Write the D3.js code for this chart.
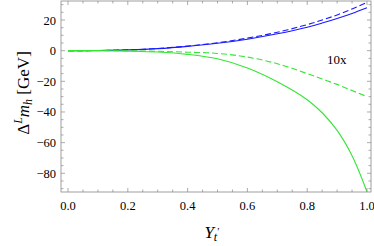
<!DOCTYPE html>
<html>
<head>
<meta charset="utf-8">
<script src="https://d3js.org/d3.v7.min.js"></script>
<style>
  body { margin: 0; background: white; }
  svg text { font-family: 'Liberation Serif', serif; }
</style>
</head>
<body>
<script>
// values
const xs = [0, 0.1, 0.2, 0.3, 0.4, 0.5, 0.6, 0.7, 0.8, 0.85, 0.9, 0.95, 1.0]
const blueSolid  = [0, 0.1, 0.5, 1.3, 2.8, 4.8, 7.5, 11, 15.3, 18, 21, 24.3, 28]
const blueDashed = [0, 0.1, 0.5, 1.4, 3.0, 5.2, 8.2, 12, 17, 20, 23.3, 27.2, 31.5]
const greenSolid = [0, 0, -0.3, -0.9, -2.4, -5.3, -11.3, -20.3, -32, -40.5, -52, -68.5, -92]
const greenDashed = [0, 0, -0.1, -0.4, -1, -1.8, -4.2, -8.5, -15, -18.5, -22, -26, -30]
const xTicks = [0, 0.2, 0.4, 0.6, 0.8, 1.0]
const yTicks = [-80, -60, -40, -20, 0, 20]

const width = 374, height = 246
const frame = { left: 61, right: 371, top: 1, bottom: 192 }

const svg = d3.select('body').append('svg')
    .attr('width', width)
    .attr('height', height)

const xScale = d3.scaleLinear().domain([-0.0235, 1.0134]).range([frame.left, frame.right])
const yScale = d3.scaleLinear().domain([-92.2, 32.4]).range([frame.bottom, frame.top])

svg.append('clipPath').attr('id', 'clip')
  .append('rect')
    .attr('x', frame.left).attr('y', frame.top)
    .attr('width', frame.right - frame.left).attr('height', frame.bottom - frame.top)

const line = d3.line()
    .x(d => xScale(d[0]))
    .y(d => yScale(d[1]))
    .curve(d3.curveCatmullRom.alpha(0.5))

const series = [
  { vals: blueDashed, color: '#1a1aff', dash: '6,3' },
  { vals: blueSolid, color: '#1a1aff', dash: null },
  { vals: greenDashed, color: '#33e633', dash: '6,3' },
  { vals: greenSolid, color: '#33e633', dash: null }
]

const g = svg.append('g').attr('clip-path', 'url(#clip)')
series.forEach(s => {
  g.append('path')
    .datum(xs.map((x, i) => [x, s.vals[i]]))
    .attr('d', line)
    .attr('fill', 'none')
    .attr('stroke', s.color)
    .attr('stroke-width', 1.1)
    .attr('stroke-dasharray', s.dash)
})

// frame
svg.append('rect')
    .attr('x', frame.left).attr('y', frame.top)
    .attr('width', frame.right - frame.left).attr('height', frame.bottom - frame.top)
    .attr('fill', 'none')
    .attr('stroke', '#888')
    .attr('stroke-width', 0.8)

// ticks (inward, all four sides)
const tickColor = '#888'
const xMinor = d3.range(0, 1.0001, 0.05)
const yMinor = d3.range(-90, 31, 5)
xMinor.forEach(v => {
  const major = xTicks.some(t => Math.abs(t - v) < 1e-6)
  const len = major ? 4 : 2.5
  const x = xScale(v)
  svg.append('line').attr('x1', x).attr('x2', x).attr('y1', frame.bottom).attr('y2', frame.bottom - len)
    .attr('stroke', tickColor).attr('stroke-width', 0.7)
  svg.append('line').attr('x1', x).attr('x2', x).attr('y1', frame.top).attr('y2', frame.top + len)
    .attr('stroke', tickColor).attr('stroke-width', 0.7)
})
yMinor.forEach(v => {
  const major = yTicks.includes(v)
  const len = major ? 4 : 2.5
  const y = yScale(v)
  svg.append('line').attr('x1', frame.left).attr('x2', frame.left + len).attr('y1', y).attr('y2', y)
    .attr('stroke', tickColor).attr('stroke-width', 0.7)
  svg.append('line').attr('x1', frame.right).attr('x2', frame.right - len).attr('y1', y).attr('y2', y)
    .attr('stroke', tickColor).attr('stroke-width', 0.7)
})

// tick labels
svg.selectAll('.xl').data(xTicks).enter().append('text')
    .attr('x', d => xScale(d))
    .attr('y', 210)
    .attr('text-anchor', 'middle')
    .attr('font-size', 12.5)
    .text(d => d.toFixed(1))

svg.selectAll('.yl').data(yTicks).enter().append('text')
    .attr('x', frame.left - 5)
    .attr('y', d => yScale(d) + 4.5)
    .attr('text-anchor', 'end')
    .attr('font-size', 12.5)
    .text(d => d < 0 ? '\u2212' + Math.abs(d) : d)

// axis labels
const xl = svg.append('text')
    .attr('x', 212).attr('y', 238)
    .attr('text-anchor', 'middle')
    .attr('font-size', 17)
xl.append('tspan').attr('font-style', 'italic').text('Y')
xl.append('tspan').attr('font-style', 'italic').attr('font-size', 12).attr('dy', 3).text('t')
xl.append('tspan').attr('font-size', 11).attr('dy', -6).text('\u2032')

const yl = svg.append('text')
    .attr('transform', 'translate(29,93) rotate(-90)')
    .attr('text-anchor', 'middle')
    .attr('font-size', 17)
yl.append('tspan').text('\u0394')
yl.append('tspan').attr('font-style', 'italic').attr('font-size', 12).attr('dy', -7).text('L')
yl.append('tspan').attr('font-style', 'italic').attr('dy', 7).text('m')
yl.append('tspan').attr('font-style', 'italic').attr('font-size', 12).attr('dy', 3).text('h')
yl.append('tspan').attr('dy', -3).text(' [GeV]')

svg.append('text')
    .attr('x', 327).attr('y', 64)
    .attr('font-size', 13)
    .text('10x')
</script>
</body>
</html>
